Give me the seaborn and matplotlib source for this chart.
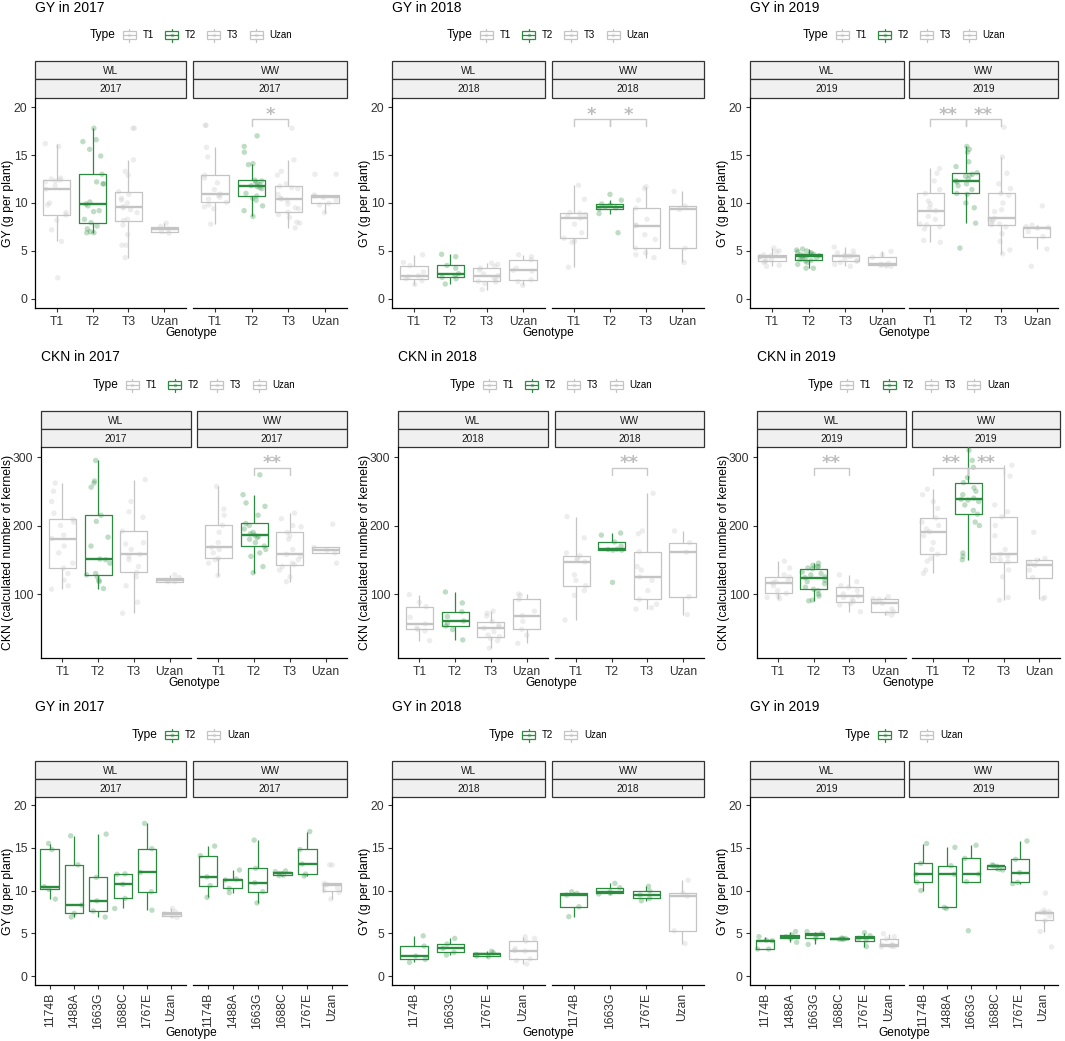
import numpy as np
import pandas as pd
import matplotlib
matplotlib.use("Agg")
import matplotlib.pyplot as plt
from matplotlib.patches import Rectangle
import seaborn as sns

# ---------------- data ----------------
gy17_wl = {
    'T1': [2.2, 6.0, 7.2, 8.2, 8.75, 9.0, 9.8, 10.0, 11.45, 11.8, 12.2, 12.3, 12.4, 12.5, 12.6, 15.9, 16.2],
    'T2': [6.9, 6.9, 7.0, 7.3, 7.6, 7.95, 8.3, 9.1, 9.2, 9.7, 9.9, 10.1, 12.0, 12.0, 12.2, 13.0, 14.9, 15.6, 16.4, 16.6, 17.8],
    'T3': [4.3, 5.6, 5.6, 6.7, 7.7, 8.17, 8.3, 9.0, 9.3, 9.5, 9.62, 10.0, 10.3, 10.5, 10.9, 11.18, 12.9, 13.3, 14.5, 17.8, 17.8],
    'Uzan': [6.85, 7.0, 7.27, 7.54, 7.9],
}
gy17_ww = {
    'T1': [7.8, 9.4, 9.6, 9.8, 10.07, 10.4, 10.6, 10.8, 10.93, 11.4, 12.1, 12.6, 12.9, 14.8, 15.8, 18.1, 18.1],
    'T2': [8.6, 9.2, 9.7, 10.3, 10.5, 10.73, 11.0, 11.5, 11.6, 11.7, 11.8, 11.9, 12.0, 12.2, 12.3, 12.39, 14.0, 14.1, 15.3, 15.9, 17.0],
    'T3': [7.4, 7.9, 8.0, 8.5, 8.8, 9.03, 9.4, 9.5, 9.9, 10.3, 10.42, 10.5, 10.9, 11.5, 11.6, 11.76, 12.0, 12.9, 13.3, 14.5, 17.8],
    'Uzan': [9.0, 9.8, 9.97, 10.3, 10.59, 10.7, 10.83, 13.0, 13.0],
}
gy18_wl = {
    'T1': [1.5, 1.9, 2.11, 2.3, 2.42, 2.8, 3.46, 3.8, 4.6],
    'T2': [1.55, 2.1, 2.25, 2.4, 2.63, 3.2, 3.49, 4.4, 4.65],
    'T3': [0.97, 1.6, 1.75, 1.83, 2.0, 2.2, 2.42, 2.6, 3.0, 3.22, 3.4, 3.6, 3.74],
    'Uzan': [1.4, 1.8, 2.0, 2.9, 2.98, 3.2, 4.08, 4.4, 4.6],
}
gy18_ww = {
    'T1': [3.3, 5.9, 6.0, 6.33, 6.9, 7.8, 8.44, 8.6, 8.8, 8.93, 9.0, 10.4, 11.85],
    'T2': [6.9, 8.9, 9.38, 9.5, 9.62, 9.8, 9.9, 10.3, 10.9],
    'T3': [4.3, 4.6, 4.8, 5.29, 6.2, 6.7, 7.65, 7.7, 8.3, 9.45, 10.3, 11.5, 11.7],
    'Uzan': [3.8, 5.29, 9.34, 9.69, 11.2],
}
gy19_wl = {
    'T1': [3.4, 3.5, 3.8, 3.91, 4.0, 4.1, 4.36, 4.4, 4.5, 4.6, 4.9, 5.0, 5.3],
    'T2': [3.2, 3.2, 3.6, 3.8, 3.95, 4.01, 4.1, 4.2, 4.3, 4.4, 4.43, 4.5, 4.55, 4.6, 4.65, 4.7, 4.8, 4.9, 5.0, 5.1, 5.2],
    'T3': [3.4, 3.6, 3.8, 3.91, 4.0, 4.2, 4.43, 4.5, 4.55, 4.6, 4.8, 5.0, 5.4],
    'Uzan': [3.4, 3.45, 3.49, 3.55, 3.63, 3.7, 4.33, 4.6, 4.95],
}
gy19_ww = {
    'T1': [5.9, 6.1, 7.3, 7.5, 7.72, 7.8, 8.3, 8.6, 9.2, 9.5, 9.9, 10.2, 11.0, 11.4, 12.3, 13.1, 13.6],
    'T2': [5.3, 7.9, 9.5, 10.0, 10.9, 11.0, 11.4, 11.8, 12.0, 12.2, 12.32, 12.5, 12.8, 12.9, 13.0, 13.15, 13.8, 14.3, 15.3, 15.6, 15.9],
    'T3': [4.7, 5.1, 6.0, 6.8, 7.5, 7.72, 7.8, 8.0, 8.2, 8.3, 8.41, 9.1, 9.3, 10.0, 10.8, 11.0, 11.5, 12.0, 13.1, 14.8, 17.9],
    'Uzan': [3.4, 5.2, 6.5, 7.0, 7.37, 7.45, 7.54, 7.7, 9.7],
}
ckn17_wl = {
    'T1': [107, 112, 120, 130, 138, 145, 160, 170, 181, 186, 200, 205, 209, 218, 235, 250, 262],
    'T2': [108, 118, 120, 125, 128, 130, 145, 150, 151, 170, 183, 206, 215, 256, 262, 265, 295],
    'T3': [72, 88, 112, 125, 131.5, 140, 150, 155, 158, 165, 173, 175, 192, 212, 220, 235, 267],
    'Uzan': [118, 118, 120, 124, 128],
}
ckn17_ww = {
    'T1': [127, 145, 150, 152, 160, 165, 168, 175, 190, 200.5, 215, 224, 257],
    'T2': [131, 140, 155, 160, 165, 170, 175, 180, 182, 184, 186, 188, 190, 195, 200, 203, 215, 228, 233, 245, 274],
    'T3': [118, 125, 135, 140, 143, 145, 150, 155, 158, 165, 180, 185, 190, 198, 200, 210, 218],
    'Uzan': [145, 160, 164, 168, 202],
}
ckn18_wl = {
    'T1': [32, 46, 48.5, 50, 56.3, 66, 81.6, 88, 99],
    'T2': [33, 48, 53.4, 57, 60.7, 67, 74, 87, 103],
    'T3': [21, 32, 35, 37.9, 40, 45, 50, 52, 55, 59.7, 68, 72, 75],
    'Uzan': [28, 40, 48.5, 60, 68.4, 75, 92, 98, 100],
}
ckn18_ww = {
    'T1': [62, 98, 105, 112, 120, 128, 147, 150, 152, 156, 160, 182, 213],
    'T2': [117, 164, 164, 165, 165.5, 170, 176, 186, 189],
    'T3': [78, 80, 85, 92, 105, 120, 125, 135, 140, 162, 188, 192, 247],
    'Uzan': [70, 96, 161, 175, 192],
}
ckn19_wl = {
    'T1': [93, 95, 97, 101, 105, 112, 116.5, 118, 120, 125, 128, 138, 148],
    'T2': [90, 91, 97, 100, 105, 107, 110, 115, 118, 120, 124, 125, 128, 130, 132, 137, 138, 140, 140, 142, 145],
    'T3': [74, 84, 86, 89, 92, 95, 97, 100, 105, 110, 112, 118, 128],
    'Uzan': [69.4, 72, 74, 78, 86.4, 88, 92, 93, 96],
}
ckn19_ww = {
    'T1': [130, 135, 148, 152, 158, 165, 175, 185, 191, 195, 200, 205, 211, 225, 235, 245, 253],
    'T2': [150, 155, 160, 200, 205, 216.5, 222, 230, 235, 237, 238, 240, 245, 250, 255, 262.6, 270, 285, 295, 310, 320],
    'T3': [91, 95, 125, 135, 147, 150, 152, 155, 158, 165, 185, 200, 212.6, 220, 230, 272, 288],
    'Uzan': [93, 95, 124, 135, 142, 145, 149.5, 152, 190],
}
gyg17_wl = {
    '1174B': [9.0, 10.14, 10.45, 14.8, 15.5],
    '1488A': [6.9, 7.33, 8.3, 13.0, 16.4],
    '1663G': [6.9, 7.6, 8.8, 11.54, 16.6],
    '1688C': [7.9, 9.08, 10.72, 11.9, 11.95],
    '1767E': [7.7, 9.86, 12.12, 14.9, 17.85],
    'Uzan': gy17_wl['Uzan'],
}
gyg17_ww = {
    '1174B': [9.2, 10.57, 11.6, 14.07, 15.2],
    '1488A': [9.75, 10.25, 11.23, 11.35, 12.4],
    '1663G': [8.55, 9.86, 10.9, 12.6, 15.9],
    '1688C': [11.75, 11.8, 12.0, 12.2, 12.3],
    '1767E': [11.7, 11.93, 13.1, 14.8, 16.9],
    'Uzan': gy17_ww['Uzan'],
}
gyg18_wl = {
    '1174B': [1.6, 1.95, 2.34, 3.5, 4.7],
    '1663G': [2.46, 2.77, 3.24, 3.74, 4.4],
    '1767E': [2.25, 2.34, 2.53, 2.73, 2.9],
    'Uzan': gy18_wl['Uzan'],
}
gyg18_ww = {
    '1174B': [6.94, 8.1, 9.47, 9.67, 9.86],
    '1663G': [9.6, 9.67, 9.86, 10.33, 10.84],
    '1767E': [8.8, 9.08, 9.47, 9.94, 10.5],
    'Uzan': gy18_ww['Uzan'],
}
gyg19_wl = {
    '1174B': [3.16, 3.16, 4.13, 4.2, 4.6],
    '1488A': [3.95, 4.4, 4.6, 4.8, 5.2],
    '1663G': [3.7, 4.4, 4.8, 5.0, 5.2],
    '1688C': [4.3, 4.3, 4.35, 4.4, 4.45],
    '1767E': [3.45, 4.1, 4.4, 4.72, 5.07],
    'Uzan': gy19_wl['Uzan'],
}
gyg19_ww = {
    '1174B': [10.0, 10.96, 11.9, 13.18, 15.5],
    '1488A': [7.9, 8.03, 11.9, 12.9, 15.05],
    '1663G': [5.3, 11.03, 11.93, 13.76, 15.3],
    '1688C': [12.4, 12.5, 12.83, 12.9, 13.0],
    '1767E': [10.8, 10.96, 12.1, 13.65, 15.8],
    'Uzan': gy19_ww['Uzan'],
}

# significance marks: (facet, group index 1, group index 2, label)
sig_gy17 = [('WW', 1, 2, '*')]
sig_gy18 = [('WW', 0, 1, '*'), ('WW', 1, 2, '*')]
sig_gy19 = [('WW', 0, 1, '**'), ('WW', 1, 2, '**')]
sig_ckn17 = [('WW', 1, 2, '**')]
sig_ckn18 = [('WW', 1, 2, '**')]
sig_ckn19 = [('WL', 1, 2, '**'), ('WW', 0, 1, '**'), ('WW', 1, 2, '**')]

TYPE_OF = {'T1': 'T1', 'T2': 'T2', 'T3': 'T3', 'Uzan': 'Uzan',
           '1174B': 'T2', '1488A': 'T2', '1663G': 'T2', '1688C': 'T2', '1767E': 'T2'}

# ---------------- styling ----------------
GRAY = '#C4C4C4'
GREEN = '#2B8C3F'
COLORS = {'T1': GRAY, 'T2': GREEN, 'T3': GRAY, 'Uzan': GRAY}
TXT = '#333333'

sns.set_theme(style='white')
plt.rcParams['font.family'] = ['Liberation Sans', 'DejaVu Sans']
np.random.seed(3)

W, H = 1065, 1041
fig = plt.figure(figsize=(W / 100, H / 100), dpi=100)
ov = fig.add_axes([0, 0, 1, 1])
ov.set_xlim(0, W)
ov.set_ylim(H, 0)
ov.axis('off')
renderer = fig.canvas.get_renderer()


def px_axes(x0, y0, x1, y1):
    return fig.add_axes([x0 / W, 1 - y1 / H, (x1 - x0) / W, (y1 - y0) / H])


ROWS = [
    dict(strip=61, top=98, bot=308, title=8, legend=35, xlab=333,
         ylim=(-0.95, 20.95), yticks=[0, 5, 10, 15, 20], yoff=27, rotate=False,
         sig=(18.0, 18.75, 19.55)),
    dict(strip=411, top=447, bot=658, title=357, legend=385, xlab=683,
         ylim=(6.6, 314.6), yticks=[100, 200, 300], yoff=33, rotate=False,
         sig=(273, 284, 296.6)),
    dict(strip=761, top=797, bot=985, title=707, legend=735, xlab=1033,
         ylim=(-1.05, 20.94), yticks=[0, 5, 10, 15, 20], yoff=27, rotate=True,
         sig=None),
]
COLS = [
    [(35, 186, 193, 347), (392, 545, 552, 704), (750, 904, 909, 1058)],
    [(41, 191, 197, 347), (398, 548, 555, 704), (757, 906, 912, 1060)],
    [(35, 186, 193, 347), (392, 545, 552, 704), (750, 904, 909, 1058)],
]

PANELS = [
    ('GY in 2017', 'GY (g per plant)', '2017', gy17_wl, gy17_ww, sig_gy17, 0, 0),
    ('GY in 2018', 'GY (g per plant)', '2018', gy18_wl, gy18_ww, sig_gy18, 0, 1),
    ('GY in 2019', 'GY (g per plant)', '2019', gy19_wl, gy19_ww, sig_gy19, 0, 2),
    ('CKN in 2017', 'CKN (calculated number of kernels)', '2017', ckn17_wl, ckn17_ww, sig_ckn17, 1, 0),
    ('CKN in 2018', 'CKN (calculated number of kernels)', '2018', ckn18_wl, ckn18_ww, sig_ckn18, 1, 1),
    ('CKN in 2019', 'CKN (calculated number of kernels)', '2019', ckn19_wl, ckn19_ww, sig_ckn19, 1, 2),
    ('GY in 2017', 'GY (g per plant)', '2017', gyg17_wl, gyg17_ww, [], 2, 0),
    ('GY in 2018', 'GY (g per plant)', '2018', gyg18_wl, gyg18_ww, [], 2, 1),
    ('GY in 2019', 'GY (g per plant)', '2019', gyg19_wl, gyg19_ww, [], 2, 2),
]


def draw_facet(ax, groups, geom, first):
    order = list(groups.keys())
    rec = []
    for g in order:
        for v in groups[g]:
            rec.append({'Genotype': g, 'value': v, 'Type': TYPE_OF[g]})
    df = pd.DataFrame(rec)
    pal = {t: COLORS[t] for t in df['Type'].unique()}
    sns.stripplot(data=df, x='Genotype', y='value', hue='Type', order=order,
                  palette=pal, jitter=0.33, size=3.9, alpha=0.3, linewidth=0,
                  dodge=False, legend=False, ax=ax, zorder=1)
    sns.boxplot(data=df, x='Genotype', y='value', hue='Type', order=order,
                palette=pal, fill=False, width=0.75, linewidth=0.9,
                showfliers=False, showcaps=False, dodge=False, legend=False,
                medianprops=dict(linewidth=1.7), ax=ax)
    n = len(order)
    ax.set_xlim(-0.6, n - 0.4)
    ax.set_ylim(*geom['ylim'])
    ax.set_yticks(geom['yticks'])
    ax.set_xticks(range(n))
    if geom['rotate']:
        ax.set_xticklabels(order, rotation=90, ha='center', va='top')
    else:
        ax.set_xticklabels(order)
    ax.set_xlabel('')
    ax.set_ylabel('')
    for s in ['top', 'right']:
        ax.spines[s].set_visible(False)
    ax.spines['bottom'].set_color('black')
    ax.spines['bottom'].set_linewidth(0.9)
    ax.spines['left'].set_color('black')
    ax.spines['left'].set_linewidth(0.9)
    ax.tick_params(axis='both', which='both', bottom=True, left=first,
                   labelleft=first, length=3, width=0.8, color=TXT,
                   labelsize=8.7, labelcolor=TXT, pad=2.5)
    if not first:
        ax.spines['left'].set_visible(False)
    ax.patch.set_alpha(0)
    ax.grid(False)


def add_sig(ax, x1, x2, label, heights):
    lo, hi, star = heights
    ax.plot([x1, x1, x2, x2], [lo, hi, hi, lo], color='#C8C8C8', lw=1.0, zorder=3)
    ax.annotate(label, xy=((x1 + x2) / 2, star), xytext=(0, -9),
                textcoords='offset pixels', ha='center', va='baseline',
                fontsize=13, fontweight='bold', color='#BDBDBD',
                family='DejaVu Sans')


def strip(x0, x1, y0, y1, text):
    ov.add_patch(Rectangle((x0, y0), x1 - x0, y1 - y0, facecolor='#F0F0F0',
                           edgecolor='#333333', lw=0.9))
    ov.text((x0 + x1) / 2, (y0 + y1) / 2 + 0.5, text, ha='center', va='center',
            fontsize=7.3, color='#1A1A1A')


def legend_key(x, cy, color):
    ov.add_patch(Rectangle((x + 1, cy - 4), 13, 8, fill=False, edgecolor=color, lw=0.9))
    ov.plot([x + 1, x + 14], [cy, cy], color=color, lw=0.9)
    ov.plot([x + 7.5, x + 7.5], [cy - 6.5, cy - 4], color=color, lw=0.9)
    ov.plot([x + 7.5, x + 7.5], [cy + 4, cy + 6.5], color=color, lw=0.9)
    ov.scatter([x + 7.5], [cy], s=7, color=color, alpha=0.45, lw=0)


def text_width(t):
    return t.get_window_extent(renderer).width


def legend(cx, cy, types):
    t_title = ov.text(0, cy, 'Type', ha='left', va='center', fontsize=8.6, color='black')
    labels = [ov.text(0, cy, t, ha='left', va='center', fontsize=7, color='black')
              for t in types]
    w_title = text_width(t_title)
    w_labs = [text_width(t) for t in labels]
    gap_title, key_w, gap_lab, gap_item = 6, 15, 6, 10
    total = (w_title + gap_title + sum(key_w + gap_lab + w for w in w_labs)
             + gap_item * (len(types) - 1))
    x = cx - total / 2
    t_title.set_x(x)
    x += w_title + gap_title
    for t, lab, w in zip(types, labels, w_labs):
        legend_key(x, cy, COLORS[t])
        x += key_w + gap_lab
        lab.set_x(x)
        x += w + gap_item


for title, ylab, year, wl, ww, sigs, r, c in PANELS:
    geom = ROWS[r]
    wl_x0, wl_x1, ww_x0, ww_x1 = COLS[r][c]
    axes = {}
    for key, (x0, x1), grp, first in [('WL', (wl_x0, wl_x1), wl, True),
                                       ('WW', (ww_x0, ww_x1), ww, False)]:
        ax = px_axes(x0, geom['top'], x1, geom['bot'])
        draw_facet(ax, grp, geom, first)
        axes[key] = ax
        strip(x0, x1, geom['strip'], geom['strip'] + 18, key)
        strip(x0, x1, geom['strip'] + 18, geom['top'], year)
    for facet, i1, i2, lab in sigs:
        add_sig(axes[facet], i1, i2, lab, geom['sig'])
    ov.text(wl_x0, geom['title'], title, ha='left', va='center', fontsize=10, color='black')
    ov.text((wl_x0 + ww_x1) / 2, geom['xlab'], 'Genotype', ha='center', va='center',
            fontsize=8.6, color='black')
    ov.text(wl_x0 - geom['yoff'], (geom['top'] + geom['bot']) / 2, ylab, rotation=90,
            ha='center', va='center', fontsize=8.8, color='black')
    present = set(TYPE_OF[g] for g in list(wl.keys()) + list(ww.keys()))
    types = [t for t in ['T1', 'T2', 'T3', 'Uzan'] if t in present]
    legend((wl_x0 + ww_x1) / 2, geom['legend'], types)

fig.savefig('out.png', dpi=100, facecolor='white')
